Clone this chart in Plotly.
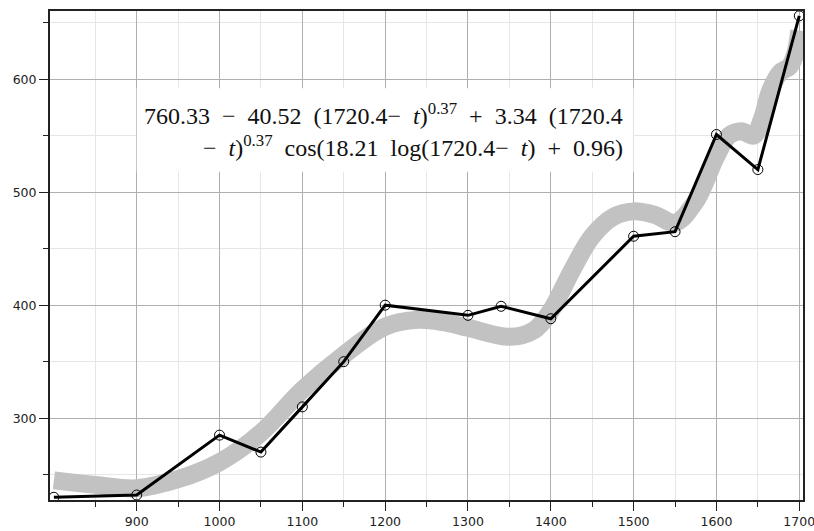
import plotly.graph_objects as go

# Observed series
years = [800, 900, 1000, 1050, 1100, 1150, 1200, 1300, 1340, 1400, 1500, 1550, 1600, 1650, 1700]
values = [230, 232, 285, 270, 310, 350, 400, 391, 399, 388, 461, 465, 551, 520, 656]

# Fitted log-periodic curve (sampled)
fit_t = [800, 850, 900, 950, 1000, 1050, 1100, 1150, 1200, 1240, 1270, 1300, 1350, 1380,
         1400, 1425, 1450, 1475, 1500, 1525, 1550, 1575, 1600, 1615, 1630, 1645, 1655,
         1665, 1677, 1688, 1695, 1700]
fit_y = [245, 241, 238, 246, 261, 287, 325, 356, 381, 387, 385, 380, 372, 378,
         395, 430, 461, 478, 483, 480, 473, 492, 532, 550, 554, 550, 565,
         590, 606, 611, 622, 643]

x_ticks = [900, 1000, 1100, 1200, 1300, 1400, 1500, 1600, 1700]
x_minor = [850, 950, 1050, 1150, 1250, 1350, 1450, 1550, 1650]
y_ticks = [300, 400, 500, 600]
y_minor = [250, 350, 450, 550, 650]

SP = "\u2002"  # en space, for the wide operator spacing of the formula
formula_line1 = ("760.33" + SP + "−" + SP + "40.52" + SP + "(1720.4−" + SP + "<i>t</i>)<sup>0.37</sup>"
                 + SP + "+" + SP + "3.34" + SP + "(1720.4")
formula_line2 = ("−" + SP + "<i>t</i>)<sup>0.37</sup>" + SP + "cos(18.21" + SP + "log(1720.4−" + SP
                 + "<i>t</i>)" + SP + "+" + SP + "0.96)")

fig = go.Figure()

fig.add_trace(go.Scatter(
    x=fit_t, y=fit_y, mode="lines",
    line=dict(color="#c2c2c2", width=18, shape="spline", smoothing=1.0),
    hoverinfo="skip",
))

fig.add_trace(go.Scatter(
    x=years, y=values, mode="lines+markers",
    line=dict(color="black", width=3),
    marker=dict(symbol="circle-open", size=10, color="black", line=dict(width=1, color="black")),
))

# white panel behind the formula
fig.add_shape(type="rect", xref="x", yref="y", x0=900, x1=1500, y0=518, y1=592,
              fillcolor="white", line=dict(width=0), layer="between")

ann_font = dict(family="Liberation Serif", size=24, color="#111")
fig.add_annotation(x=1490, y=569, xref="x", yref="y", text=formula_line1,
                   showarrow=False, xanchor="right", yanchor="middle", font=ann_font)
fig.add_annotation(x=1490, y=541, xref="x", yref="y", text=formula_line2,
                   showarrow=False, xanchor="right", yanchor="middle", font=ann_font)

tick_font = dict(family="DejaVu Sans", size=12.5, color="#222")
axis_common = dict(
    ticks="outside", ticklen=9, tickcolor="#222", tickwidth=1,
    showgrid=True, gridcolor="#b0b0b0", gridwidth=1,
    showline=True, linecolor="#222", linewidth=2, mirror=True,
    zeroline=False, tickfont=tick_font, automargin=False,
    ticklabeloverflow="allow",
)

fig.update_xaxes(range=[795.3, 1704.5], tickmode="array", tickvals=x_ticks,
                 minor=dict(tickmode="array", tickvals=x_minor, ticks="outside", ticklen=5,
                            tickcolor="#222", showgrid=True, gridcolor="#e6e6e6", gridwidth=1),
                 **axis_common)
fig.update_yaxes(range=[227.6, 660.3], tickmode="array", tickvals=y_ticks,
                 minor=dict(tickmode="array", tickvals=y_minor, ticks="outside", ticklen=5,
                            tickcolor="#222", showgrid=True, gridcolor="#e6e6e6", gridwidth=1),
                 **axis_common)

fig.update_layout(
    width=814, height=531,
    margin=dict(l=50, r=11, t=11, b=31),
    plot_bgcolor="white", paper_bgcolor="white",
    showlegend=False,
)

fig.write_html("out.html")
